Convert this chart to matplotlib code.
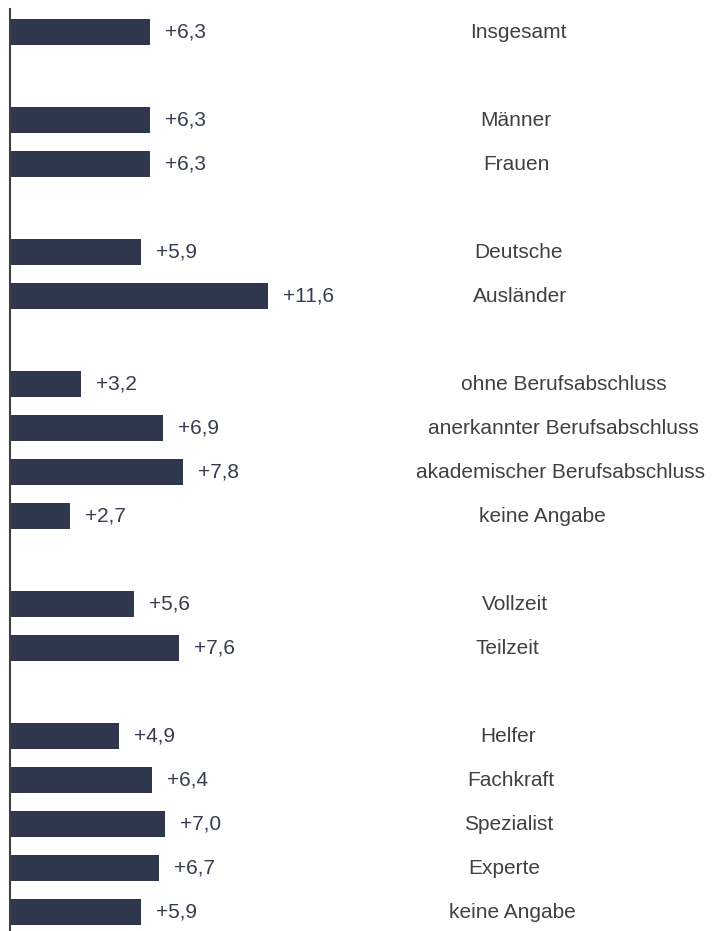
import matplotlib

matplotlib.use("Agg")
import matplotlib.pyplot as plt

# categories in order from top to bottom; None marks an empty spacer row
categories = [
    "Insgesamt", None,
    "Männer", "Frauen", None,
    "Deutsche", "Ausländer", None,
    "ohne Berufsabschluss", "anerkannter Berufsabschluss",
    "akademischer Berufsabschluss", "keine Angabe", None,
    "Vollzeit", "Teilzeit", None,
    "Helfer", "Fachkraft", "Spezialist", "Experte", "keine Angabe",
]
values = [
    6.3, None,
    6.3, 6.3, None,
    5.9, 11.6, None,
    3.2, 6.9, 7.8, 2.7, None,
    5.6, 7.6, None,
    4.9, 6.4, 7.0, 6.7, 5.9,
]
value_labels = [
    "+6,3", None,
    "+6,3", "+6,3", None,
    "+5,9", "+11,6", None,
    "+3,2", "+6,9", "+7,8", "+2,7", None,
    "+5,6", "+7,6", None,
    "+4,9", "+6,4", "+7,0", "+6,7", "+5,9",
]

# horizontal centre of each category label, in axes fraction (style only)
label_centre = [
    0.723, None,
    0.720, 0.720, None,
    0.723, 0.726, None,
    0.788, 0.787, 0.783, 0.758, None,
    0.718, 0.707, None,
    0.708, 0.712, 0.710, 0.703, 0.715,
]

BAR_COLOR = "#2e374d"
TEXT_COLOR = "#404040"
VALUE_COLOR = "#363c4e"

plt.rcParams["font.family"] = ["Liberation Sans", "DejaVu Sans"]

fig = plt.figure(figsize=(7.13, 9.31), dpi=100)
W, H = 713, 931
ax = fig.add_axes([10 / W, 0, 703 / W, (931 - 9) / H])

px_per_unit = 22.2
slot = 44.0
ax.set_xlim(0, 703 / px_per_unit)
ax.set_ylim(20 + (931 - 912) / slot, -(32 - 9) / slot)

for i, (cat, val, lab) in enumerate(zip(categories, values, value_labels)):
    if cat is None:
        continue
    ax.barh(i, val, height=0.57, color=BAR_COLOR, left=0)
    ax.text(val + 15 / px_per_unit, i, lab, va="center", ha="left",
            fontsize=15, color=VALUE_COLOR)
    ax.text(label_centre[i], i, cat, va="center", ha="center",
            fontsize=15, color=TEXT_COLOR, transform=ax.get_yaxis_transform())

for side in ["top", "right", "bottom"]:
    ax.spines[side].set_visible(False)
ax.spines["left"].set_color("#404040")
ax.spines["left"].set_linewidth(1.5)
ax.set_xticks([])
ax.set_yticks([])

fig.savefig("out.png", dpi=100)
